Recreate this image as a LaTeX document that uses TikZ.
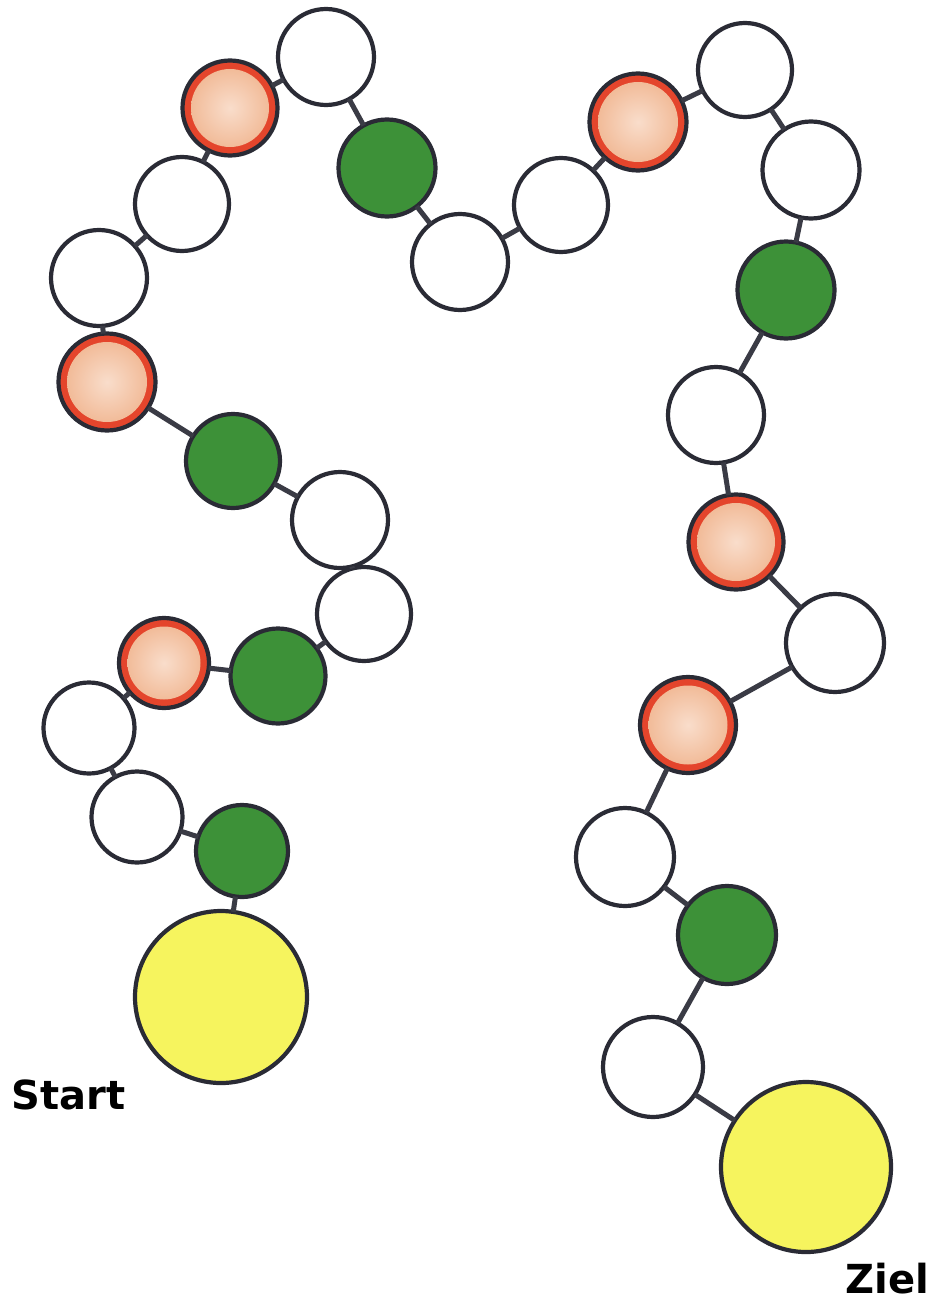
\documentclass[tikz,border=0pt]{standalone}
\usepackage{fontspec}
\setmainfont{DejaVu Sans}
\begin{document}
\begin{tikzpicture}[x=1pt,y=-1pt,
  every node/.style={inner sep=0pt, outer sep=0pt},
  field/.style={circle, draw=inkc, line width=4.2pt, minimum size=#1pt},
  whitec/.style={field=#1, fill=white},
  greenc/.style={field=#1, fill=greenf},
  goalc/.style={field=#1, fill=yellowf},
  redc/.style={field=#1, fill=redf,
    path picture={\shade[inner color=peachl, outer color=peachd]
      (path picture bounding box.center) circle[radius=#1/2*1pt-8.5pt];}},
  link/.style={draw=linkc, line width=5pt},
  lbl/.style={font=\fontsize{40}{40}\selectfont\bfseries, text=black}
]
\definecolor{inkc}{HTML}{2A2B35}
\definecolor{linkc}{HTML}{3A3B45}
\definecolor{greenf}{HTML}{3D9138}
\definecolor{yellowf}{HTML}{F6F45E}
\definecolor{redf}{HTML}{E4452C}
\definecolor{peachd}{HTML}{F0B48E}
\definecolor{peachl}{HTML}{F9DDCB}
\useasboundingbox (0,0) rectangle (936,1303);
\fill[white] (0,0) rectangle (936,1303);

\node[goalc=172]  (n1)  at (221,997) {};
\node[greenc=92]  (n2)  at (242,851) {};
\node[whitec=91]  (n3)  at (137,817) {};
\node[whitec=91]  (n4)  at (89,728) {};
\node[redc=90]    (n5)  at (164,663) {};
\node[greenc=95]  (n6)  at (278,676) {};
\node[whitec=94]  (n7)  at (364,614) {};
\node[whitec=96]  (n8)  at (340,520) {};
\node[greenc=94]  (n9)  at (233,461) {};
\node[redc=97]    (n10) at (107,382) {};
\node[whitec=96]  (n11) at (99,278) {};
\node[whitec=94]  (n12) at (182,204) {};
\node[redc=95]    (n13) at (230,108) {};
\node[whitec=96]  (n14) at (326,57) {};
\node[greenc=97]  (n15) at (387,168) {};
\node[whitec=96]  (n16) at (460,262) {};
\node[whitec=94]  (n17) at (561,205) {};
\node[redc=97]    (n18) at (638,122) {};
\node[whitec=94]  (n19) at (745,70) {};
\node[whitec=97]  (n20) at (811,170) {};
\node[greenc=97]  (n21) at (786,290) {};
\node[whitec=96]  (n22) at (716,415) {};
\node[redc=95]    (n23) at (736,542) {};
\node[whitec=98]  (n24) at (835,643) {};
\node[redc=96]    (n25) at (688,725) {};
\node[whitec=98]  (n26) at (625,857) {};
\node[greenc=98]  (n27) at (727,935) {};
\node[whitec=100] (n28) at (653,1067) {};
\node[goalc=170]  (n29) at (806,1167) {};

\foreach \a/\b in {n1/n2,n2/n3,n3/n4,n4/n5,n5/n6,n6/n7,n7/n8,n8/n9,n9/n10,
  n10/n11,n11/n12,n12/n13,n13/n14,n14/n15,n15/n16,n16/n17,n17/n18,n18/n19,
  n19/n20,n20/n21,n21/n22,n22/n23,n23/n24,n24/n25,n25/n26,n26/n27,n27/n28,n28/n29}
  \draw[link] (\a) -- (\b);

\node[lbl, anchor=base west] (start) at (12,1109) {Start};
\node[lbl, anchor=base east] (ziel) at (929,1293) {Ziel};
\end{tikzpicture}
\end{document}
